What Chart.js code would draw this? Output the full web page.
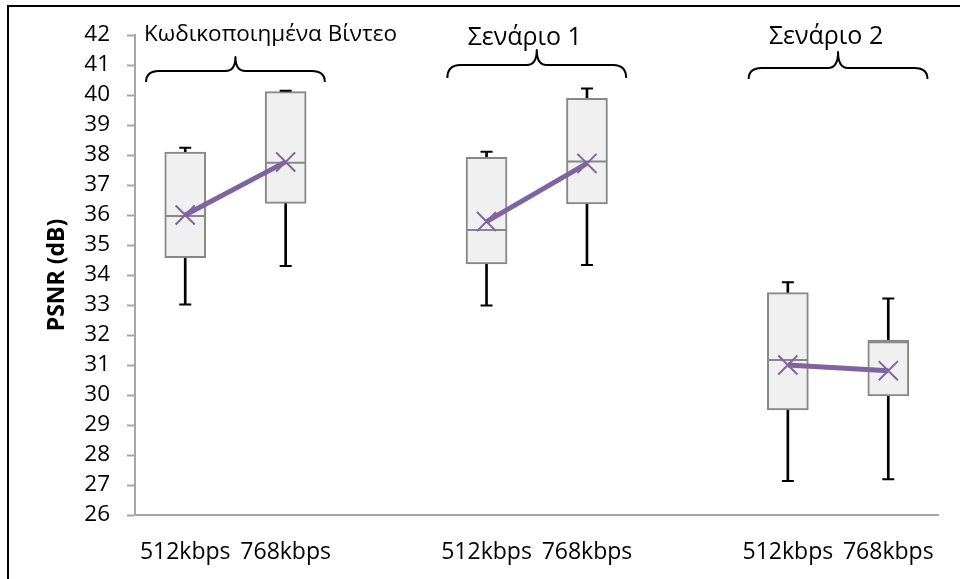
<!DOCTYPE html>
<html>
<head>
<meta charset="utf-8">
<title>PSNR (dB)</title>
<script src="https://cdn.jsdelivr.net/npm/chart.js@4.4.1/dist/chart.umd.min.js"></script>
<style>
  html, body { margin: 0; padding: 0; background: #fff; overflow: hidden; }
  #wrap { position: relative; width: 960px; height: 579px; }
  #frame {
    position: absolute; left: 7px; top: 5px; width: 2000px; height: 2000px;
    border-left: 2px solid #000; border-top: 2px solid #000; pointer-events: none;
  }
</style>
</head>
<body>
<div id="wrap">
  <canvas id="chart" width="960" height="579"></canvas>
  <div id="frame"></div>
</div>
<script>
// Bitrate categories; empty slots separate the three groups
const categories = ['512kbps', '768kbps', '', '512kbps', '768kbps', '', '512kbps', '768kbps'];

// Box-and-whisker statistics of PSNR (dB) per category
const whiskerLow  = [33.02, 34.30, null, 32.98, 34.33, null, 27.13, 27.19];
const quartile1   = [34.58, 36.39, null, 34.37, 36.37, null, 29.50, 29.97];
const medians     = [35.97, 37.74, null, 35.50, 37.78, null, 31.17, 31.76];
const quartile3   = [38.10, 40.11, null, 37.92, 39.89, null, 33.41, 31.83];
const whiskerHigh = [38.24, 40.14, null, 38.11, 40.22, null, 33.76, 33.22];
const means       = [36.00, 37.77, null, 35.78, 37.72, null, 31.00, 30.81];

// Group headings and the category indices each brace spans
const groupTitles = ['Κωδικοποιημένα Βίντεο', 'Σενάριο 1', 'Σενάριο 2'];
const groupSpans  = [[0, 1], [3, 4], [6, 7]];

// Y axis range
const yMin = 26, yMax = 42, yStep = 1;

// Heading / brace placement (pixels relative to the group centre and plot top)
const headingLayout = [
  { dx: 35,  baseline: 6,  tip: 22, bar: 36, arm: 47, size: 22.5 },
  { dx: -12, baseline: 10, tip: 15, bar: 30, arm: 43, size: 25 },
  { dx: -12, baseline: 9,  tip: 17, bar: 33, arm: 44, size: 25 }
];

const FONT = "'Open Sans', 'DejaVu Sans', sans-serif";
const AXIS_GREY = '#A6A6A6';
const BOX_GREY = '#878787';
const PURPLE = '#8064A2';

const pairs = (a, b) => a.map((v, i) => (v == null || b[i] == null) ? null : [v, b[i]]);

const groupHeadings = {
  id: 'groupHeadings',
  afterDraw(chart) {
    const { ctx, scales: { x, y } } = chart;
    const top = y.getPixelForValue(yMax);
    const slot = x.getPixelForValue(1) - x.getPixelForValue(0);
    ctx.save();
    groupSpans.forEach(([a, b], g) => {
      const L = headingLayout[g];
      const mid = (x.getPixelForValue(a) + x.getPixelForValue(b)) / 2;
      const half = slot * 0.89;
      const xl = mid - half, xr = mid + half;
      const yTip = top + L.tip, yBar = top + L.bar, yArm = top + L.arm;
      // curly brace
      ctx.beginPath();
      ctx.strokeStyle = '#000';
      ctx.lineWidth = 2;
      ctx.lineJoin = 'round';
      ctx.moveTo(xl, yArm);
      ctx.quadraticCurveTo(xl, yBar, xl + 13, yBar);
      ctx.lineTo(mid - 10, yBar);
      ctx.quadraticCurveTo(mid, yBar, mid, yTip);
      ctx.quadraticCurveTo(mid, yBar, mid + 10, yBar);
      ctx.lineTo(xr - 13, yBar);
      ctx.quadraticCurveTo(xr, yBar, xr, yArm);
      ctx.stroke();
      // heading text
      ctx.fillStyle = '#000';
      ctx.font = L.size + 'px ' + FONT;
      ctx.textAlign = 'center';
      ctx.textBaseline = 'alphabetic';
      ctx.fillText(groupTitles[g], mid + L.dx, L.baseline + top);
    });
    ctx.restore();
  }
};

new Chart(document.getElementById('chart'), {
  type: 'bar',
  data: {
    labels: categories,
    datasets: [
      {
        // whisker stems
        label: 'range',
        data: pairs(whiskerLow, whiskerHigh),
        backgroundColor: '#000',
        borderWidth: 0,
        barThickness: 2,
        grouped: false,
        order: 6
      },
      {
        // interquartile boxes
        label: 'box',
        data: pairs(quartile1, quartile3),
        backgroundColor: '#F0F0F0',
        borderColor: BOX_GREY,
        borderWidth: 2,
        borderSkipped: false,
        barThickness: 41,
        grouped: false,
        order: 5
      },
      {
        type: 'line',
        label: 'max',
        data: whiskerHigh,
        showLine: false,
        pointStyle: 'line',
        pointRadius: 6,
        pointBorderWidth: 2,
        pointBorderColor: '#000',
        order: 4
      },
      {
        type: 'line',
        label: 'min',
        data: whiskerLow,
        showLine: false,
        pointStyle: 'line',
        pointRadius: 6,
        pointBorderWidth: 2,
        pointBorderColor: '#000',
        order: 4
      },
      {
        type: 'line',
        label: 'median',
        data: medians,
        showLine: false,
        pointStyle: 'line',
        pointRadius: 19.5,
        pointBorderWidth: 2,
        pointBorderColor: BOX_GREY,
        order: 3
      },
      {
        type: 'line',
        label: 'mean',
        data: means,
        borderColor: PURPLE,
        borderWidth: 5,
        spanGaps: false,
        pointStyle: 'crossRot',
        pointRadius: 13.5,
        pointBorderWidth: 2,
        pointBorderColor: PURPLE,
        pointBackgroundColor: PURPLE,
        order: 1
      }
    ]
  },
  options: {
    responsive: false,
    animation: false,
    events: [],
    layout: { padding: { left: 0, right: 21, top: 35, bottom: 0 } },
    plugins: { legend: { display: false }, tooltip: { enabled: false } },
    scales: {
      x: {
        offset: true,
        grid: { display: false, drawTicks: false },
        border: { display: true, color: AXIS_GREY, width: 2 },
        ticks: {
          color: '#000',
          font: { family: FONT, size: 23 },
          padding: 24,
          maxRotation: 0,
          autoSkip: false
        },
        afterFit(scale) { scale.height = 64; }
      },
      y: {
        min: yMin,
        max: yMax,
        grid: {
          drawOnChartArea: false,
          drawTicks: true,
          tickLength: 8,
          tickWidth: 2,
          tickColor: AXIS_GREY
        },
        border: { display: true, color: AXIS_GREY, width: 2 },
        ticks: {
          stepSize: yStep,
          color: '#000',
          font: { family: FONT, size: 22.5 },
          padding: 17
        },
        title: {
          display: true,
          text: 'PSNR (dB)',
          color: '#000',
          font: { family: FONT, size: 23, weight: 'bold' },
          padding: { top: 44, bottom: 0 }
        },
        afterFit(scale) { scale.width = 135; }
      }
    }
  },
  plugins: [groupHeadings]
});
</script>
</body>
</html>
